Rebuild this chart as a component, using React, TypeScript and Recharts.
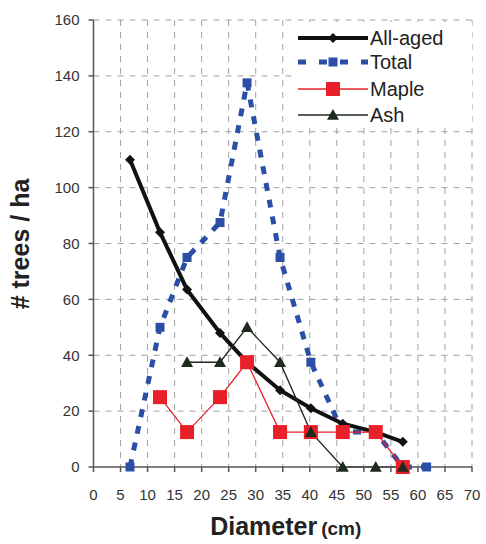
import React from 'react';
import { LineChart, Line, XAxis, YAxis, CartesianGrid, Legend, Label } from 'recharts';

const diameters = [6.75, 12.3, 17.3, 23.4, 28.4, 34.5, 40.2, 46.1, 52.2, 57.2, 61.6];
const allAged = [110, 84, 63.5, 48, 37.5, 27.5, 21, 15.5, 12.5, 9, null];
const total = [0, 50, 75, 87.5, 137.5, 75, 37.5, 12.5, 12.5, 0, 0];
const maple = [null, 25, 12.5, 25, 37.5, 12.5, 12.5, 12.5, 12.5, 0, null];
const ash = [null, null, 37.5, 37.5, 50, 37.5, 12.5, 0, 0, 0, null];

const xTicks = [0, 5, 10, 15, 20, 25, 30, 35, 40, 45, 50, 55, 60, 65, 70];
const yTicks = [0, 20, 40, 60, 80, 100, 120, 140, 160];

const seriesNames = ['All-aged', 'Total', 'Maple', 'Ash'];

const data = diameters.map((d, i) => ({
  d,
  allAged: allAged[i],
  total: total[i],
  maple: maple[i],
  ash: ash[i],
}));

const BLACK = '#111111';
const BLUE = '#2b4fa6';
const RED = '#e8202a';
const DARK = '#1d2a1d';
const FONT = "'Liberation Sans', Arial, sans-serif";

const diamondPath = (cx: number, cy: number, r: number) =>
  `M${cx},${cy - r}L${cx + r},${cy}L${cx},${cy + r}L${cx - r},${cy}Z`;
const trianglePath = (cx: number, cy: number, r: number) =>
  `M${cx},${cy - r}L${cx + r},${cy + r * 0.8}L${cx - r},${cy + r * 0.8}Z`;

const makeDot = (kind: string) => (props: any) => {
  const { cx, cy, index, value } = props;
  const key = `${kind}-${index}`;
  if (cx == null || cy == null || value == null || (Array.isArray(value) && value[1] == null)) {
    return <g key={key} />;
  }
  if (kind === 'diamond') return <path key={key} d={diamondPath(cx, cy, 5)} fill={BLACK} />;
  if (kind === 'bsquare') return <rect key={key} x={cx - 4.5} y={cy - 4.5} width={9} height={9} fill={BLUE} />;
  if (kind === 'rsquare') return <rect key={key} x={cx - 7} y={cy - 7} width={14} height={14} fill={RED} />;
  return <path key={key} d={trianglePath(cx, cy, 6)} fill={DARK} />;
};

const renderLegend = () => {
  const rows = [38, 62, 89, 115];
  const top = 22;
  const left = 292;
  const lx1 = 298 - left;
  const lx2 = 368 - left;
  const mx = 333 - left;
  const textX = 370 - left;
  return (
    <svg width={180} height={104} style={{ display: 'block' }}>
      <rect x={0} y={0} width={180} height={104} fill="#ffffff" />
      <line x1={lx1} x2={lx2} y1={rows[0] - top} y2={rows[0] - top} stroke={BLACK} strokeWidth={4} />
      <path d={diamondPath(mx, rows[0] - top, 5)} fill={BLACK} />
      <line x1={lx1} x2={lx2} y1={rows[1] - top} y2={rows[1] - top} stroke={BLUE} strokeWidth={5} strokeDasharray="8 13" />
      <rect x={mx - 4.5} y={rows[1] - top - 4.5} width={9} height={9} fill={BLUE} />
      <line x1={lx1} x2={lx2} y1={rows[2] - top} y2={rows[2] - top} stroke={RED} strokeWidth={1.3} />
      <rect x={mx - 7} y={rows[2] - top - 7} width={14} height={14} fill={RED} />
      <line x1={lx1} x2={lx2} y1={rows[3] - top} y2={rows[3] - top} stroke={DARK} strokeWidth={1.3} />
      <path d={trianglePath(mx, rows[3] - top, 6)} fill={DARK} />
      {seriesNames.map((n, i) => (
        <text key={n} x={textX} y={rows[i] - top} dy="0.36em" fontSize={20} fontFamily={FONT} fill="#222">
          {n}
        </text>
      ))}
    </svg>
  );
};

const XLabelContent = (props: any) => {
  const vb = props.viewBox || {};
  const cx = (vb.x ?? 93.5) + (vb.width ?? 378.5) / 2 + 3;
  return (
    <text x={cx} y={535} textAnchor="middle" fontFamily={FONT} fontWeight="bold" fill="#222">
      <tspan fontSize={25}>Diameter</tspan>
      <tspan fontSize={19} dx={4}>(cm)</tspan>
    </text>
  );
};

const YLabelContent = () => (
  <text
    x={0}
    y={0}
    transform="translate(29,244) rotate(-90)"
    textAnchor="middle"
    fontFamily={FONT}
    fontWeight="bold"
    fontSize={25}
    fill="#222"
  >
    # trees / ha
  </text>
);

export default function App() {
  return (
    <div style={{ position: 'absolute', left: 0, top: 0, width: 486, height: 544, background: '#fff' }}>
      <LineChart width={486} height={544} data={data} margin={{ top: 20, right: 14, left: 0, bottom: 0 }}>
        <CartesianGrid stroke="#a0a0a0" strokeDasharray="6 6" horizontalValues={yTicks.slice(1)} verticalValues={xTicks.slice(1)} />
        <XAxis
          dataKey="d"
          type="number"
          domain={[0, 70]}
          ticks={xTicks}
          interval={0}
          height={77}
          tickSize={5}
          tickMargin={17}
          stroke="#555"
          strokeWidth={1.5}
          tick={{ fontSize: 15, fill: '#333', fontFamily: FONT }}
          allowDataOverflow
        >
          <Label content={XLabelContent} />
        </XAxis>
        <YAxis
          type="number"
          domain={[0, 160]}
          ticks={yTicks}
          interval={0}
          width={93.5}
          tickSize={5}
          tickMargin={9}
          stroke="#555"
          strokeWidth={1.5}
          tick={{ fontSize: 15, fill: '#333', fontFamily: FONT }}
        >
          <Label content={YLabelContent} />
        </YAxis>
        <Legend
          layout="vertical"
          align="center"
          verticalAlign="middle"
          content={renderLegend}
          wrapperStyle={{ position: 'absolute', left: 292, top: 22, width: 180, height: 104 }}
        />
        <Line
          type="linear"
          dataKey="total"
          name="Total"
          stroke={BLUE}
          strokeWidth={5}
          strokeDasharray="8 9"
          dot={makeDot('bsquare')}
          activeDot={false}
          isAnimationActive={false}
        />
        <Line
          type="linear"
          dataKey="allAged"
          name="All-aged"
          stroke={BLACK}
          strokeWidth={4}
          dot={makeDot('diamond')}
          activeDot={false}
          isAnimationActive={false}
        />
        <Line
          type="linear"
          dataKey="maple"
          name="Maple"
          stroke={RED}
          strokeWidth={1.3}
          dot={makeDot('rsquare')}
          activeDot={false}
          isAnimationActive={false}
        />
        <Line
          type="linear"
          dataKey="ash"
          name="Ash"
          stroke={DARK}
          strokeWidth={1.3}
          dot={makeDot('triangle')}
          activeDot={false}
          isAnimationActive={false}
        />
      </LineChart>
    </div>
  );
}
